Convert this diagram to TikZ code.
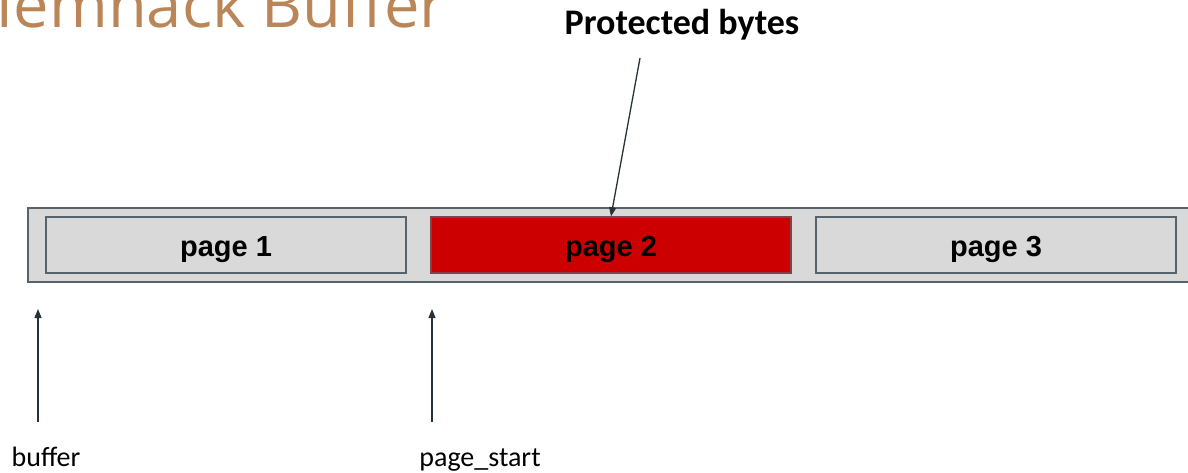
\documentclass[tikz,border=0pt]{standalone}
\usepackage{fontspec}
\setmainfont{Carlito}
\newfontfamily\titlefont{Open Sans}
\newfontfamily\boxfont{Liberation Sans}
\usetikzlibrary{arrows.meta}
\definecolor{titlebrown}{RGB}{186,134,88}
\definecolor{boxgray}{RGB}{217,217,217}
\definecolor{edgegray}{RGB}{88,98,106}
\definecolor{pagered}{RGB}{204,0,0}
\definecolor{arrowink}{RGB}{38,50,56}
\tikzset{
  outerbox/.style={draw=edgegray, fill=boxgray, line width=1.3pt},
  pagebox/.style={draw=edgegray, fill=boxgray, line width=1.3pt, minimum width=360pt, minimum height=56pt, inner sep=0pt,
    text height=24pt, text depth=2pt,
    font=\boxfont\bfseries\fontsize{29}{31}\selectfont},
  hotpage/.style={pagebox, fill=pagered, draw=edgegray!70!pagered},
  pointer/.style={draw=arrowink, line width=1.3pt, -{Triangle[length=9pt,width=7pt]}},
  ptrlabel/.style={font=\fontsize{28}{30}\selectfont, anchor=base, inner sep=0pt}
}
\begin{document}
\begin{tikzpicture}[x=1pt,y=-1pt]
  \useasboundingbox (0,0) rectangle (1188,473);
  \clip (0,0) rectangle (1188,473);

  % heading, partly off the page
  \node[anchor=base east, inner sep=0pt, text=titlebrown, xscale=1.02]
    (title) at (446,28) {\titlefont\fontsize{62}{66}\selectfont Memhack Buffer};

  % the buffer and its three pages
  \draw[outerbox] (28,208) rectangle (1195,282);
  \node[pagebox] (p1) at (226,245) {page 1};
  \node[hotpage] (p2) at (611,245) {page 2};
  \node[pagebox] (p3) at (996,245) {page 3};

  % protected bytes callout
  \node[font=\bfseries\fontsize{36}{38}\selectfont, anchor=base, inner sep=0pt]
    (prot) at (682,35) {Protected bytes};
  \coordinate (protfoot) at (640,58);
  \draw[pointer] (protfoot) -- (p2.north);

  % pointers into the buffer
  \node[ptrlabel] (buf) at (46,466) {buffer};
  \node[ptrlabel] (ps) at (480,466) {page\_start};
  \coordinate (buftail) at (38,422);
  \coordinate (bufhead) at (38,309);
  \coordinate (pstail) at (432,422);
  \coordinate (pshead) at (432,309);
  \draw[pointer] (buftail) -- (bufhead);
  \draw[pointer] (pstail) -- (pshead);
\end{tikzpicture}
\end{document}
